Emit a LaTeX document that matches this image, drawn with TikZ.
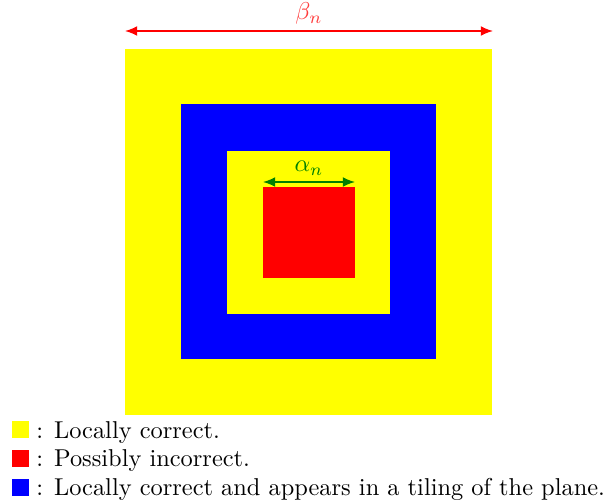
\documentclass[tikz,border=0pt]{standalone}
\usetikzlibrary{arrows.meta}
\definecolor{ylw}{RGB}{255,255,0}
\definecolor{rd}{RGB}{255,0,0}
\definecolor{bl}{RGB}{0,0,255}
\definecolor{grn}{RGB}{0,128,0}
\definecolor{lrd}{RGB}{255,60,60}
\begin{document}
\begin{tikzpicture}[x=0.41pt,y=-0.41pt,
  dim/.style={{Latex[length=5pt,width=4pt]}-{Latex[length=5pt,width=4pt]},line width=0.6pt},
  leg/.style={anchor=west,inner sep=0pt}]
\useasboundingbox (0,0) rectangle (609,504);
\fill[ylw] (125,49) rectangle (492,415);
\fill[bl] (181,104) rectangle (436,359);
\fill[ylw] (227,151) rectangle (390,314);
\fill[rd] (263,187) rectangle (355,278);
\coordinate (b1) at (125,31);
\coordinate (b2) at (493,31);
\draw[dim,rd] (b1) -- node[above=-1pt,text=lrd]{$\beta_n$} (b2);
\coordinate (a1) at (263,182);
\coordinate (a2) at (355,182);
\draw[dim,grn] (a1) -- node[above=-1pt,text=grn]{$\alpha_n$} (a2);
\fill[ylw] (12,421) rectangle (29,438);
\fill[rd] (12,450) rectangle (29,467);
\fill[bl] (12,479) rectangle (29,496);
\node[leg] (l1) at (36,433) {: Locally correct.};
\node[leg] (l2) at (36,461) {: Possibly incorrect.};
\node[leg] (l3) at (36,489) {: Locally correct and appears in a tiling of the plane.};
\end{tikzpicture}
\end{document}
